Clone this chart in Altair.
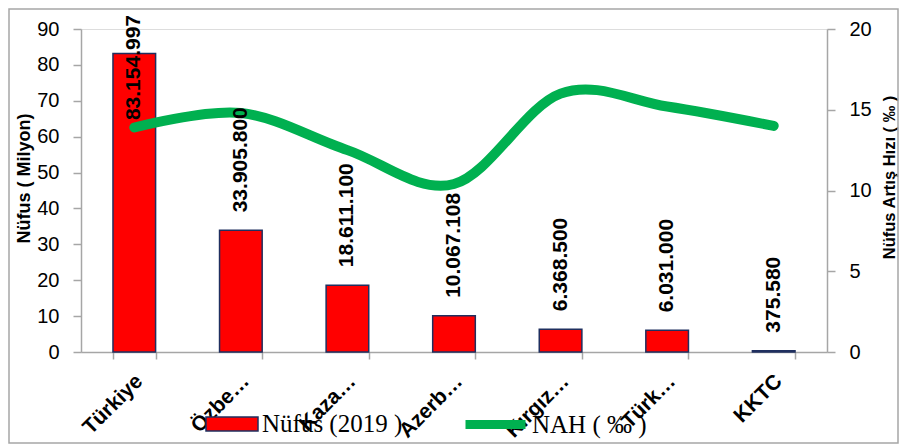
import altair as alt
import pandas as pd

countries = ["Türkiye", "Özbekistan", "Kazakistan", "Azerbaycan", "Kırgızistan", "Türkmenistan", "KKTC"]
tick_labels = ["Türkiye", "Özbe…", "Kaza…", "Azerb…", "Kırgız…", "Türk…", "KKTC"]
population_m = [83.154997, 33.9058, 18.6111, 10.067108, 6.3685, 6.031, 0.37558]
population_txt = ["83.154.997", "33.905.800", "18.611.100", "10.067.108", "6.368.500", "6.031.000", "375.580"]
nah = [13.9, 14.8, 12.5, 10.4, 16.0, 15.2, 14.0]

bar_name = "Nüfus (2019 )"
line_name = "NAH ( ‰ )"

df = pd.DataFrame({
    "country": countries,
    "pop": population_m,
    "poptxt": population_txt,
    "nah": nah,
    "bar_series": [bar_name] * len(countries),
    "line_series": [line_name] * len(countries),
})

W, H = 746, 323
PL, PT, PR, PB = 73, 21, 72, 92

label_map = "{" + ",".join(f'"{c}":"{t}"' for c, t in zip(countries, tick_labels)) + "}"

x_enc = alt.X(
    "country:N", sort=countries, title=None,
    scale=alt.Scale(paddingInner=0.6, paddingOuter=0.3),
    axis=alt.Axis(
        labelExpr=f"{label_map}[datum.value]",
        labelAngle=-45, labelAlign="right", labelBaseline="top",
        labelFont="Liberation Sans", labelFontWeight="bold", labelFontSize=21,
        labelColor="#000000", labelPadding=11, labelOffset=-3, tickBand="extent",
        tickSize=7, tickColor="#A6A6A6", domainColor="#A6A6A6",
        domainWidth=1.5, tickWidth=1.5, labelOverlap=False,
    ),
)

frame = alt.Chart(alt.Data(values=[{"a": 1}])).mark_rect(
    fill="transparent", stroke="#A6A6A6", strokeWidth=1.5
).encode(
    x=alt.value(-PL + 1), x2=alt.value(W + PR - 1),
    y=alt.value(-PT + 1), y2=alt.value(H + PB - 1),
)

bars = alt.Chart(df).mark_bar(stroke="#1F2F5F", strokeWidth=1.5).encode(
    x=x_enc,
    y=alt.Y(
        "pop:Q", scale=alt.Scale(domain=[0, 90], nice=False),
        axis=alt.Axis(
            values=list(range(0, 91, 10)), grid=False, orient="left",
            labelFont="Liberation Sans", labelFontSize=20, labelColor="#000000",
            tickSize=8, labelPadding=14, tickColor="#A6A6A6", domainColor="#A6A6A6",
            domainWidth=1.5, tickWidth=1.5,
            title="Nüfus  ( Milyon)", titleFont="Liberation Sans", titleFontWeight="bold",
            titleFontSize=18, titleColor="#000000", titleAngle=270,
            titleAlign="center", titleBaseline="middle", titleX=-57, titleY=149,
        ),
    ),
    fill=alt.Fill(
        "bar_series:N",
        scale=alt.Scale(domain=[bar_name], range=["#FF0000"]),
        legend=alt.Legend(
            title=None, orient="none", legendX=124, legendY=368, direction="horizontal",
            symbolType="M-1,-0.27H1V0.27H-1Z", symbolSize=2704,
            symbolStrokeColor="#1F2F5F", symbolStrokeWidth=1.5,
            labelFont="Liberation Serif", labelFontSize=25, labelColor="#000000",
            labelOffset=3, padding=0,
        ),
    ),
)

line = alt.Chart(df).mark_line(
    strokeWidth=10, strokeCap="round", strokeJoin="round", interpolate="cardinal"
).encode(
    x=alt.X("country:N", sort=countries),
    y=alt.Y(
        "nah:Q", scale=alt.Scale(domain=[0, 20], nice=False),
        axis=alt.Axis(
            values=[0, 5, 10, 15, 20], grid=False, orient="right",
            labelFont="Liberation Sans", labelFontSize=20, labelColor="#000000",
            tickSize=8, labelPadding=14, tickColor="#A6A6A6", domainColor="#A6A6A6",
            domainWidth=1.5, tickWidth=1.5,
            title="Nüfus Artış Hızı ( ‰ )", titleFont="Liberation Sans", titleFontWeight="bold",
            titleFontSize=16.5, titleColor="#000000", titleAngle=270,
            titleAlign="center", titleBaseline="middle", titleX=62, titleY=148,
        ),
    ),
    stroke=alt.Stroke(
        "line_series:N",
        scale=alt.Scale(domain=[line_name], range=["#00B050"]),
        legend=alt.Legend(
            title=None, orient="none", legendX=380, legendY=361, direction="horizontal",
            symbolType="stroke", symbolSize=3600, symbolStrokeWidth=9,
            labelFont="Liberation Serif", labelFontSize=25, labelColor="#000000",
            labelOffset=2, padding=0,
        ),
    ),
)

labels = alt.Chart(df).transform_calculate(
    labpos="min(datum.pop, 59.6)"
).mark_text(
    angle=270, align="left", baseline="middle", dx=18,
    font="Liberation Sans", fontWeight="bold", fontSize=21, color="#000000",
).encode(
    x=alt.X("country:N", sort=countries),
    y=alt.Y("labpos:Q", scale=alt.Scale(domain=[0, 90], nice=False), axis=None),
    text="poptxt:N",
)

chart = alt.layer(frame, bars, line, labels).resolve_scale(
    y="independent"
).properties(
    width=W, height=H,
    padding={"left": PL, "top": PT, "right": PR, "bottom": PB},
    autosize=alt.AutoSizeParams(type="none"),
).configure_view(stroke=None).configure(background="white")

chart.save("out.html", embed_options={"renderer": "svg", "actions": False})
